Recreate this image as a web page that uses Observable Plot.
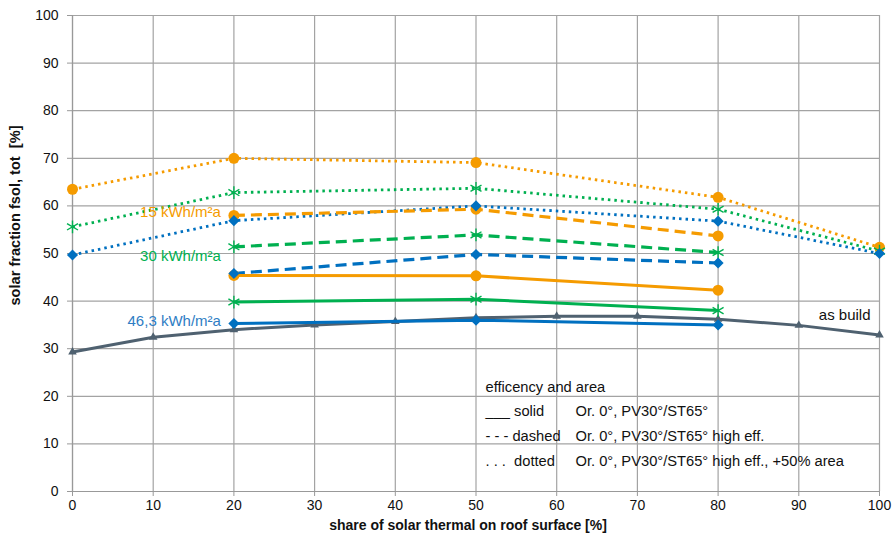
<!DOCTYPE html>
<html><head><meta charset="utf-8">
<script src="https://cdn.jsdelivr.net/npm/d3@7"></script>
<script src="https://cdn.jsdelivr.net/npm/@observablehq/plot@0.6"></script>
<style>body{margin:0;background:#fff;} #chart{width:892px;height:540px;}</style>
</head><body><div id="chart"></div>
<script>
// ---- data ----
const xTicks = [0,10,20,30,40,50,60,70,80,90,100];
const yTicks = [0,10,20,30,40,50,60,70,80,90,100];
const xAsBuild = [0,10,20,30,40,50,60,70,80,90,100];
const asBuild = [29.3,32.4,34.0,35.0,35.7,36.5,36.8,36.8,36.2,34.9,32.9];
const xBase = [20,50,80];
const xDotted = [0,20,50,80,100];
const orangeSolid  = [45.4,45.3,42.3];
const greenSolid   = [39.8,40.4,38.0];
const blueSolid    = [35.3,36.0,35.0];
const orangeDashed = [58.0,59.3,53.7];
const greenDashed  = [51.4,53.9,50.2];
const blueDashed   = [45.8,49.8,48.0];
const orangeDotted = [63.5,70.0,69.1,61.8,51.3];
const greenDotted  = [55.6,62.8,63.7,59.3,50.5];
const blueDotted   = [49.7,56.9,60.0,56.8,50.0];
const seriesLabels = ["15 kWh/m²a","30 kWh/m²a","46,3 kWh/m²a","as build"];
const legendTitle = "efficency and area";
const legendStyles = ["___ solid","- - - dashed",". . .  dotted"];
const legendTexts = ["Or. 0°, PV30°/ST65°","Or. 0°, PV30°/ST65° high eff.","Or. 0°, PV30°/ST65° high eff., +50% area"];
const xLabel = "share of solar thermal on roof surface [%]";
const yLabel = "solar fraction fsol, tot  [%]";

// ---- styles ----
const C = {orange:"#F59B00", green:"#00B050", blue:"#0070C0", gray:"#4F6170"};
const series = [
  {id:"os", c:"orange", s:"solid",  xs:xBase,   ys:orangeSolid},
  {id:"gs", c:"green",  s:"solid",  xs:xBase,   ys:greenSolid},
  {id:"bs", c:"blue",   s:"solid",  xs:xBase,   ys:blueSolid},
  {id:"od", c:"orange", s:"dashed", xs:xBase,   ys:orangeDashed},
  {id:"gd", c:"green",  s:"dashed", xs:xBase,   ys:greenDashed},
  {id:"bd", c:"blue",   s:"dashed", xs:xBase,   ys:blueDashed},
  {id:"oo", c:"orange", s:"dotted", xs:xDotted, ys:orangeDotted},
  {id:"go", c:"green",  s:"dotted", xs:xDotted, ys:greenDotted},
  {id:"bo", c:"blue",   s:"dotted", xs:xDotted, ys:blueDotted}
];
const rows = series.flatMap(d => d.xs.map((x,i) => ({x, y:d.ys[i], id:d.id, c:d.c, s:d.s})));
const gray = xAsBuild.map((x,i) => ({x, y:asBuild[i]}));
const byStyle = s => rows.filter(r => r.s === s);
const byColor = c => rows.filter(r => r.c === c);

const dashes = {solid:null, dashed:"11,6", dotted:"2.5,4"};
const widths = {solid:3, dashed:3.2, dotted:2.8};
const lineMarks = ["dotted","dashed","solid"].map(s => Plot.line(byStyle(s), {
  x:"x", y:"y", z:"id", stroke:d => C[d.c], strokeWidth:widths[s],
  strokeDasharray:dashes[s], strokeLinecap:"butt", curve:"linear"
}));

const fs = "Liberation Sans, Arial, sans-serif";
const legendDy = [372, 396, 421, 446];
const lf = 14.7;

const plot = Plot.plot({
  width:892, height:540,
  marginLeft:72, marginRight:13, marginTop:15, marginBottom:49,
  x:{domain:[0,100], ticks:xTicks},
  y:{domain:[0,100], ticks:yTicks},
  style:{fontFamily:fs, fontSize:"14px", color:"#111", background:"#fff"},
  marks:[
    Plot.gridX(xTicks, {stroke:"#a3a3a3", strokeOpacity:1, strokeWidth:1.2}),
    Plot.gridY(yTicks, {stroke:"#a3a3a3", strokeOpacity:1, strokeWidth:1.2}),
    Plot.axisX({ticks:xTicks, tickSize:5, tickPadding:4, stroke:"#999", fontSize:14, label:null}),
    Plot.axisY({ticks:yTicks, tickSize:5, tickPadding:9, stroke:"#999", fontSize:14, label:null}),
    Plot.ruleX([0], {stroke:"#999", strokeWidth:1.2}),
    Plot.ruleY([0], {stroke:"#999", strokeWidth:1.2}),
    Plot.line(gray, {x:"x", y:"y", stroke:C.gray, strokeWidth:3}),
    Plot.dot(gray, {x:"x", y:"y", symbol:"triangle", r:3.2, fill:C.gray, stroke:"none"}),
    ...lineMarks,
    Plot.dot(byColor("orange"), {x:"x", y:"y", symbol:"circle", r:5.5, fill:C.orange, stroke:"none"}),
    Plot.dot(byColor("green"), {x:"x", y:"y", symbol:"asterisk", r:6, stroke:C.green, strokeWidth:1.4, fill:"none"}),
    Plot.dot(byColor("blue"), {x:"x", y:"y", symbol:"diamond2", r:5, fill:C.blue, stroke:"none"}),
    // series labels
    Plot.text([seriesLabels[0]], {x:xBase[0], y:orangeDashed[0], textAnchor:"end", dx:-13, dy:-3, fill:C.orange, fontSize:15}),
    Plot.text([seriesLabels[1]], {x:xBase[0], y:greenDashed[0], textAnchor:"end", dx:-13, dy:9, fill:C.green, fontSize:15}),
    Plot.text([seriesLabels[2]], {x:xBase[0], y:blueSolid[0], textAnchor:"end", dx:-13, dy:-2, fill:"#2E7DC4", fontSize:15}),
    Plot.text([seriesLabels[3]], {x:xAsBuild[xAsBuild.length-1], y:asBuild[asBuild.length-1], textAnchor:"end", dx:-9, dy:-20, fill:"#111", fontSize:15}),
    // legend text
    Plot.text([legendTitle], {frameAnchor:"top-left", textAnchor:"start", lineAnchor:"middle", dx:413, dy:legendDy[0], fontSize:lf, fill:"#111"}),
    ...legendStyles.map((t,i) => Plot.text([t], {frameAnchor:"top-left", textAnchor:"start", lineAnchor:"middle", dx:413, dy:legendDy[i+1], fontSize:lf, fill:"#111"})),
    ...legendTexts.map((t,i) => Plot.text([t], {frameAnchor:"top-left", textAnchor:"start", lineAnchor:"middle", dx:503, dy:legendDy[i+1], fontSize:lf, fill:"#111"})),
    // axis titles
    Plot.text([yLabel], {frameAnchor:"left", textAnchor:"middle", lineAnchor:"middle", rotate:-90, dx:-57, dy:-38, fontWeight:"bold", fontSize:14.6, fill:"#111"}),
    Plot.text([xLabel], {frameAnchor:"bottom", textAnchor:"middle", lineAnchor:"middle", dx:-8, dy:34, fontWeight:"bold", fontSize:14, fill:"#111"})
  ]
});
document.getElementById("chart").appendChild(plot);
</script>
</body></html>
